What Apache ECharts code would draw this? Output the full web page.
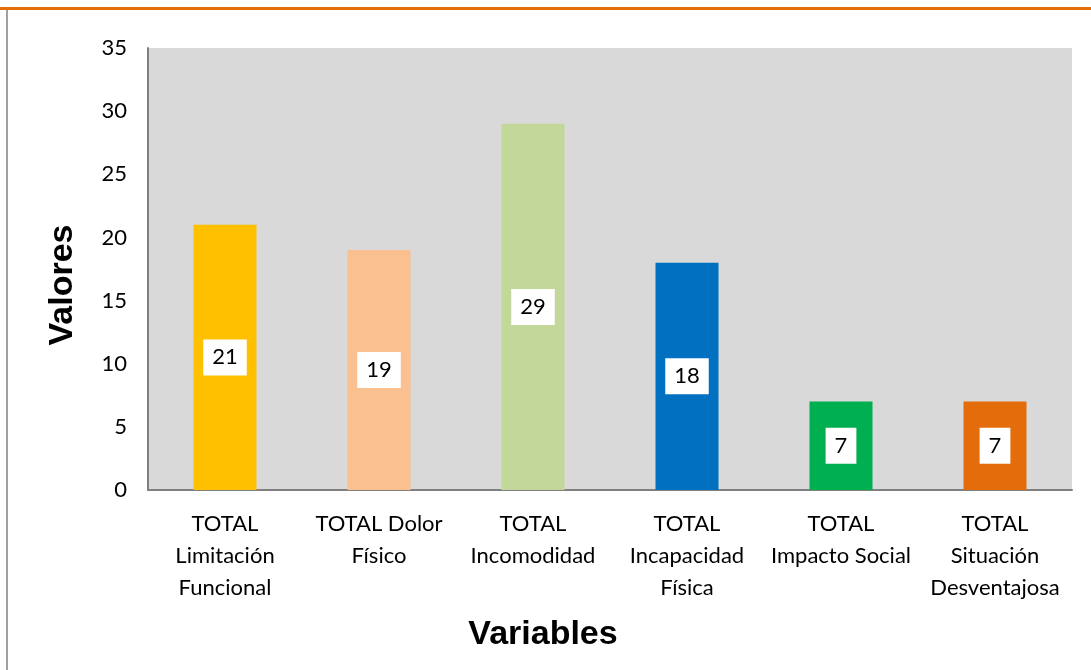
<!DOCTYPE html>
<html>
<head>
<meta charset="utf-8">
<script src="https://cdn.jsdelivr.net/npm/echarts@6/dist/echarts.min.js"></script>
<style>
  html, body { margin: 0; padding: 0; background: #fff; }
  #chart { width: 1091px; height: 670px; }
</style>
</head>
<body>
<div id="chart"></div>
<script>
// Totals per variable group
const categories = [
  'TOTAL\nLimitación\nFuncional',
  'TOTAL Dolor\nFísico',
  'TOTAL\nIncomodidad',
  'TOTAL\nIncapacidad\nFísica',
  'TOTAL\nImpacto Social',
  'TOTAL\nSituación\nDesventajosa'
];
const values = [21, 19, 29, 18, 7, 7];
const barColors = ['#FFC000', '#FAC090', '#C4D79B', '#0070C0', '#00B050', '#E46C0A'];
const yTicks = { min: 0, max: 35, interval: 5 };

const FONT = 'Lato, "Open Sans", sans-serif';
const TITLE_FONT = '"Liberation Sans", Arial, sans-serif';

const chart = echarts.init(document.getElementById('chart'));
chart.setOption({
  animation: false,
  grid: { left: 148, right: 19, top: 48, bottom: 180, backgroundColor: '#D9D9D9', show: true, borderWidth: 0 },
  xAxis: {
    type: 'category',
    data: categories,
    axisLine: { lineStyle: { color: '#808080', width: 2 } },
    axisTick: { show: false },
    axisLabel: { color: '#000', fontSize: 22, fontFamily: FONT, lineHeight: 32, margin: 18, interval: 0 }
  },
  yAxis: {
    type: 'value',
    min: yTicks.min, max: yTicks.max, interval: yTicks.interval,
    axisLine: { show: true, lineStyle: { color: '#808080', width: 2 } },
    axisTick: { show: false },
    splitLine: { show: false },
    axisLabel: { color: '#000', fontSize: 22, fontFamily: FONT, margin: 21 }
  },
  series: [{
    type: 'bar',
    data: values.map((v, i) => ({ value: v, itemStyle: { color: barColors[i] } })),
    barWidth: 63,
    label: {
      show: true,
      position: 'inside',
      color: '#000',
      fontSize: 22,
      fontFamily: FONT,
      backgroundColor: '#fff',
      padding: [7, 9, 7, 9]
    }
  }],
  graphic: [
    { type: 'rect', shape: { x: 7, y: 9, width: 1200, height: 700 }, style: { fill: 'none', stroke: '#A0A0A0', lineWidth: 2 }, silent: true },
    { type: 'rect', shape: { x: 0, y: 7, width: 1091, height: 3 }, style: { fill: '#E46C0A' }, silent: true },
    {
      type: 'text', x: 63, y: 285, rotation: Math.PI / 2,
      style: { text: 'Valores', font: 'bold 34px ' + TITLE_FONT, fill: '#000', textAlign: 'center', textVerticalAlign: 'middle' }
    },
    {
      type: 'text', x: 543, y: 635,
      style: { text: 'Variables', font: 'bold 34px ' + TITLE_FONT, fill: '#000', textAlign: 'center', textVerticalAlign: 'middle' }
    }
  ]
});
</script>
</body>
</html>
